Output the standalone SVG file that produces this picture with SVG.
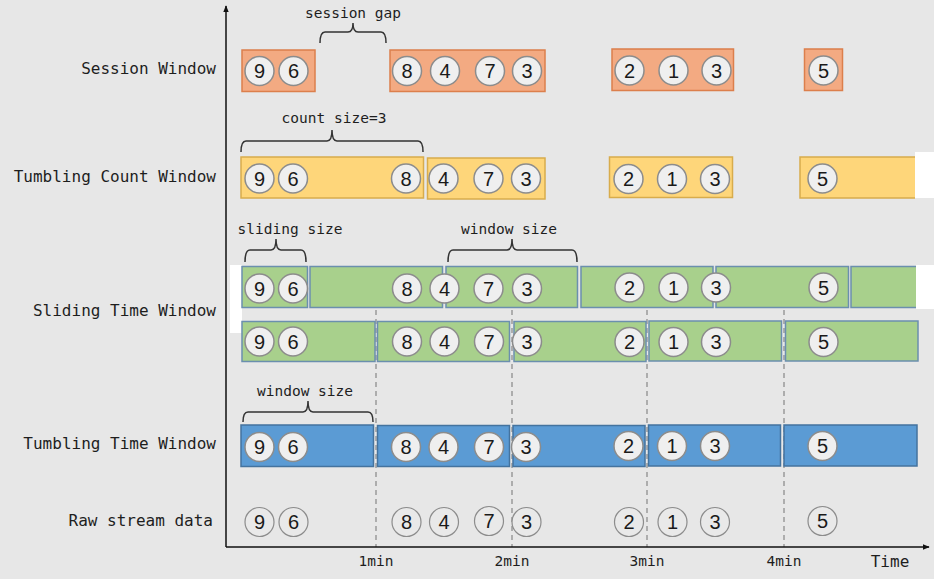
<svg xmlns="http://www.w3.org/2000/svg" width="934" height="579" viewBox="0 0 934 579">
<defs>
<style>
.lbl{font-family:"DejaVu Sans Mono","Liberation Mono",monospace;font-size:16px;fill:#1e1e1e;text-anchor:end}
.ann{font-family:"DejaVu Sans Mono","Liberation Mono",monospace;font-size:14.5px;fill:#1e1e1e;text-anchor:middle}
.tick{font-family:"DejaVu Sans Mono","Liberation Mono",monospace;font-size:14.5px;fill:#1e1e1e;text-anchor:middle}
.ses{fill:#f3aa82;stroke:#dc7f4c;stroke-width:1.5}
.cnt{fill:#fed67a;stroke:#d8ac4c;stroke-width:1.5}
.sld{fill:#a8d08c;stroke:#6b8fae;stroke-width:1.5}
.ttw{fill:#5b9bd4;stroke:#44739e;stroke-width:1.5}
.c{fill:#efefef;stroke:#8c8c8c;stroke-width:1.5}
.r{fill:#e9e9e9;stroke:#8c8c8c;stroke-width:1.2}
.d{font-family:"Liberation Sans","Open Sans",sans-serif;font-size:20px;fill:#1a1a1a;text-anchor:middle}
.br{fill:none;stroke:#333;stroke-width:1.5}
.dash{stroke:#9a9a9a;stroke-width:1.5;stroke-dasharray:5,4}
.ax{stroke:#111;stroke-width:1.5;fill:none}
</style>
<marker id="ah" viewBox="0 0 10 10" refX="9" refY="5" markerWidth="7" markerHeight="7" orient="auto-start-reverse" markerUnits="userSpaceOnUse">
<path d="M0,1 L10,5 L0,9 z" fill="#111"/>
</marker>
</defs>
<rect x="0" y="0" width="934" height="579" fill="#e7e7e7"/>
<rect x="915" y="152" width="19" height="46" fill="#ffffff"/>
<rect x="916" y="265" width="18" height="44" fill="#ffffff"/>
<rect x="230" y="265" width="12" height="68" fill="#ffffff"/>

<g id="labels">
<text class="lbl" x="216" y="74">Session Window</text>
<text class="lbl" x="216" y="182">Tumbling Count Window</text>
<text class="lbl" x="216" y="316">Sliding Time Window</text>
<text class="lbl" x="216" y="449">Tumbling Time Window</text>
<text class="lbl" x="213" y="526">Raw stream data</text>
</g>

<g id="connectors">
<line class="dash" x1="376" y1="310" x2="376" y2="547"/>
<line class="dash" x1="512" y1="310" x2="512" y2="547"/>
<line class="dash" x1="647" y1="310" x2="647" y2="547"/>
<line class="dash" x1="784" y1="310" x2="784" y2="547"/>
<line class="ax" x1="226" y1="547" x2="226" y2="6" marker-end="url(#ah)"/>
<line class="ax" x1="226" y1="547" x2="929" y2="547" marker-end="url(#ah)"/>
<path class="br" d="M320,43 Q320,32 325,32 L348,32 Q353,32 353,23 Q353,32 358,32 L381,32 Q386,32 386,43"/>
<path class="br" d="M241,152 Q241,141 246,141 L327,141 Q332,141 332,130 Q332,141 337,141 L418,141 Q423,141 423,152"/>
<path class="br" d="M245,262 Q245,250 250,250 L271,250 Q276,250 276,239 Q276,250 281,250 L301,250 Q306,250 306,262"/>
<path class="br" d="M448,262 Q448,250 453,250 L507,250 Q512,250 512,239 Q512,250 517,250 L572,250 Q577,250 577,262"/>
<path class="br" d="M243,422 Q243,412 248,412 L303,412 Q308,412 308,401 Q308,412 313,412 L368,412 Q373,412 373,422"/>
</g>
<g id="annotations">
<text class="ann" x="353" y="18">session gap</text>
<text class="ann" x="334" y="123">count size=3</text>
<text class="ann" x="290" y="234">sliding size</text>
<text class="ann" x="509" y="234">window size</text>
<text class="ann" x="305" y="396">window size</text>
<text class="tick" x="376" y="566">1min</text>
<text class="tick" x="512" y="566">2min</text>
<text class="tick" x="647" y="566">3min</text>
<text class="tick" x="784" y="566">4min</text>
<text class="tick" x="890" y="567" style="font-size:16px">Time</text>
</g>

<g id="session-1"><rect class="ses" x="242" y="50" width="73" height="41.5"/>
<circle class="c" cx="259.5" cy="71" r="14.5"/><text class="d" x="259.5" y="78">9</text>
<circle class="c" cx="293.5" cy="71" r="14.5"/><text class="d" x="293.5" y="78">6</text></g>
<g id="session-2"><rect class="ses" x="390" y="50" width="155" height="41.5"/>
<circle class="c" cx="407" cy="71" r="14.5"/><text class="d" x="407" y="78">8</text>
<circle class="c" cx="445" cy="71" r="14.5"/><text class="d" x="445" y="78">4</text>
<circle class="c" cx="490" cy="71" r="14.5"/><text class="d" x="490" y="78">7</text>
<circle class="c" cx="527" cy="71" r="14.5"/><text class="d" x="527" y="78">3</text></g>
<g id="session-3"><rect class="ses" x="612" y="49" width="121.5" height="41.5"/>
<circle class="c" cx="629.5" cy="70.5" r="14.5"/><text class="d" x="629.5" y="77.5">2</text>
<circle class="c" cx="673.5" cy="70.5" r="14.5"/><text class="d" x="673.5" y="77.5">1</text>
<circle class="c" cx="716.5" cy="70.5" r="14.5"/><text class="d" x="716.5" y="77.5">3</text></g>
<g id="session-4"><rect class="ses" x="804.5" y="49" width="38" height="41.5"/>
<circle class="c" cx="823.5" cy="70.5" r="14.5"/><text class="d" x="823.5" y="77.5">5</text></g>

<g id="count-1"><rect class="cnt" x="241" y="157" width="182.5" height="41"/>
<circle class="c" cx="259.5" cy="178.5" r="14.5"/><text class="d" x="259.5" y="185.5">9</text>
<circle class="c" cx="293" cy="178.5" r="14.5"/><text class="d" x="293" y="185.5">6</text>
<circle class="c" cx="406" cy="178.5" r="14.5"/><text class="d" x="406" y="185.5">8</text></g>
<g id="count-2"><rect class="cnt" x="427.5" y="158" width="117.5" height="41"/>
<circle class="c" cx="443.5" cy="178.5" r="14.5"/><text class="d" x="443.5" y="185.5">4</text>
<circle class="c" cx="488.5" cy="178.5" r="14.5"/><text class="d" x="488.5" y="185.5">7</text>
<circle class="c" cx="526" cy="178.5" r="14.5"/><text class="d" x="526" y="185.5">3</text></g>
<g id="count-3"><rect class="cnt" x="609.5" y="157" width="123" height="40.5"/>
<circle class="c" cx="628.5" cy="179" r="14.5"/><text class="d" x="628.5" y="186">2</text>
<circle class="c" cx="672" cy="179" r="14.5"/><text class="d" x="672" y="186">1</text>
<circle class="c" cx="715" cy="179" r="14.5"/><text class="d" x="715" y="186">3</text></g>
<g id="count-4"><rect class="cnt" x="800" y="157" width="115" height="41" style="stroke-width:0"/>
<path d="M915,157 L800,157 L800,198 L915,198" fill="none" stroke="#d8ac4c" stroke-width="1.5"/>
<circle class="c" cx="822.5" cy="178.5" r="14.5"/><text class="d" x="822.5" y="185.5">5</text></g>

<g id="slide-a1"><rect class="sld" x="242" y="266.5" width="65.5" height="41"/></g>
<g id="slide-a2"><rect class="sld" x="310" y="266.5" width="132.5" height="41"/></g>
<g id="slide-a3"><rect class="sld" x="446" y="266.5" width="131.5" height="41"/></g>
<g id="slide-a4"><rect class="sld" x="581" y="266.5" width="132" height="41"/></g>
<g id="slide-a5"><rect class="sld" x="716" y="266.5" width="132.5" height="41"/></g>
<g id="slide-a6"><rect class="sld" x="851" y="266.5" width="65" height="41" style="stroke-width:0"/>
<path d="M916,266.5 L851,266.5 L851,307.5 L916,307.5" fill="none" stroke="#6b8fae" stroke-width="1.5"/></g>
<g id="slide-a-events">
<circle class="c" cx="259.5" cy="288.5" r="14.5"/><text class="d" x="259.5" y="295.5">9</text>
<circle class="c" cx="293" cy="288.5" r="14.5"/><text class="d" x="293" y="295.5">6</text>
<circle class="c" cx="407" cy="288.5" r="14.5"/><text class="d" x="407" y="295.5">8</text>
<circle class="c" cx="444.5" cy="288.5" r="14.5"/><text class="d" x="444.5" y="295.5">4</text>
<circle class="c" cx="488.5" cy="288.5" r="14.5"/><text class="d" x="488.5" y="295.5">7</text>
<circle class="c" cx="527" cy="288.5" r="14.5"/><text class="d" x="527" y="295.5">3</text>
<circle class="c" cx="629.5" cy="287.5" r="14.5"/><text class="d" x="629.5" y="294.5">2</text>
<circle class="c" cx="673.5" cy="287.5" r="14.5"/><text class="d" x="673.5" y="294.5">1</text>
<circle class="c" cx="716" cy="287.5" r="14.5"/><text class="d" x="716" y="294.5">3</text>
<circle class="c" cx="823.5" cy="287.5" r="14.5"/><text class="d" x="823.5" y="294.5">5</text>
</g>

<g id="slide-b1"><rect class="sld" x="242" y="321.5" width="133" height="40"/>
<circle class="c" cx="259.5" cy="341.5" r="14.5"/><text class="d" x="259.5" y="348.5">9</text>
<circle class="c" cx="293" cy="341.5" r="14.5"/><text class="d" x="293" y="348.5">6</text></g>
<g id="slide-b2"><rect class="sld" x="377.5" y="321.5" width="132" height="40"/>
<circle class="c" cx="407" cy="341.5" r="14.5"/><text class="d" x="407" y="348.5">8</text>
<circle class="c" cx="444.5" cy="341.5" r="14.5"/><text class="d" x="444.5" y="348.5">4</text>
<circle class="c" cx="489" cy="341.5" r="14.5"/><text class="d" x="489" y="348.5">7</text></g>
<g id="slide-b3"><rect class="sld" x="514" y="321.5" width="132" height="40"/>
<circle class="c" cx="527" cy="341.5" r="14.5"/><text class="d" x="527" y="348.5">3</text>
<circle class="c" cx="629.5" cy="342" r="14.5"/><text class="d" x="629.5" y="349">2</text></g>
<g id="slide-b4"><rect class="sld" x="649" y="321" width="132.5" height="40"/>
<circle class="c" cx="673.5" cy="342" r="14.5"/><text class="d" x="673.5" y="349">1</text>
<circle class="c" cx="716" cy="342" r="14.5"/><text class="d" x="716" y="349">3</text></g>
<g id="slide-b5"><rect class="sld" x="785.5" y="321" width="132.5" height="40"/>
<circle class="c" cx="823.5" cy="342" r="14.5"/><text class="d" x="823.5" y="349">5</text></g>

<g id="tumble-1"><rect class="ttw" x="241" y="425" width="132.5" height="41.5"/>
<circle class="c" cx="259.5" cy="447" r="14.5"/><text class="d" x="259.5" y="454">9</text>
<circle class="c" cx="293" cy="447" r="14.5"/><text class="d" x="293" y="454">6</text></g>
<g id="tumble-2"><rect class="ttw" x="377.5" y="425.5" width="132" height="41"/>
<circle class="c" cx="406" cy="447" r="14.5"/><text class="d" x="406" y="454">8</text>
<circle class="c" cx="443.5" cy="447" r="14.5"/><text class="d" x="443.5" y="454">4</text>
<circle class="c" cx="489" cy="447" r="14.5"/><text class="d" x="489" y="454">7</text></g>
<g id="tumble-3"><rect class="ttw" x="513" y="425.5" width="132" height="41"/>
<circle class="c" cx="526" cy="447" r="14.5"/><text class="d" x="526" y="454">3</text>
<circle class="c" cx="628.5" cy="446" r="14.5"/><text class="d" x="628.5" y="453">2</text></g>
<g id="tumble-4"><rect class="ttw" x="648.5" y="425" width="132" height="41"/>
<circle class="c" cx="672" cy="446" r="14.5"/><text class="d" x="672" y="453">1</text>
<circle class="c" cx="715" cy="446" r="14.5"/><text class="d" x="715" y="453">3</text></g>
<g id="tumble-5"><rect class="ttw" x="784" y="425" width="133" height="41"/>
<circle class="c" cx="822.5" cy="446" r="14.5"/><text class="d" x="822.5" y="453">5</text></g>

<g id="raw">
<circle class="r" cx="259.5" cy="522" r="14.5"/><text class="d" x="259.5" y="529">9</text>
<circle class="r" cx="293.5" cy="522" r="14.5"/><text class="d" x="293.5" y="529">6</text>
<circle class="r" cx="406.5" cy="522" r="14.5"/><text class="d" x="406.5" y="529">8</text>
<circle class="r" cx="444" cy="522" r="14.5"/><text class="d" x="444" y="529">4</text>
<circle class="r" cx="489" cy="521" r="14.5"/><text class="d" x="489" y="528">7</text>
<circle class="r" cx="526.5" cy="522" r="14.5"/><text class="d" x="526.5" y="529">3</text>
<circle class="r" cx="629" cy="522" r="14.5"/><text class="d" x="629" y="529">2</text>
<circle class="r" cx="672.5" cy="522" r="14.5"/><text class="d" x="672.5" y="529">1</text>
<circle class="r" cx="715" cy="522" r="14.5"/><text class="d" x="715" y="529">3</text>
<circle class="r" cx="822.5" cy="521" r="14.5"/><text class="d" x="822.5" y="528">5</text>
</g>
</svg>
